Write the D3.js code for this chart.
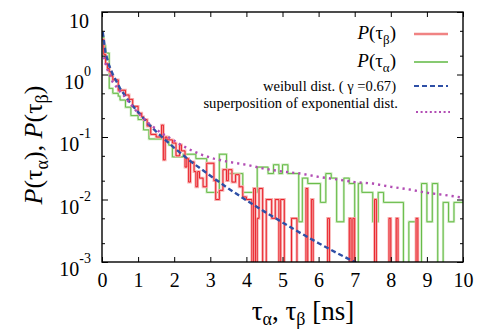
<!DOCTYPE html>
<html lang="en">
<head>
<meta charset="UTF-8" />
<title>P(tau_alpha), P(tau_beta)</title>
<script src="https://d3js.org/d3.v7.min.js"></script>
<style>
  body { margin: 0; background: #fff; }
  svg text { font-family: "Liberation Serif", "Times New Roman", serif; fill: #000; }
</style>
</head>
<body>
<div id="chart"></div>
<script>
// P(tau_beta) histogram: bin start [ns] and value (0 = empty bin)
const betaStart = [0, 0.05, 0.1, 0.15, 0.2, 0.25, 0.3, 0.45, 0.65, 0.75, 0.85, 1.0, 1.1, 1.15, 1.25, 1.35,
  1.5, 1.65, 1.7, 1.75, 1.8, 1.95, 2.05, 2.15, 2.2, 2.3, 2.35, 2.4, 2.45, 2.55, 2.6, 2.65, 2.7, 2.8, 2.9,
  3.1, 3.15, 3.25, 3.35, 3.45, 3.5, 3.6, 3.7, 3.8, 3.9, 4.0, 4.15, 4.2, 4.25, 4.3, 4.35, 4.45, 4.55, 4.7,
  4.8, 4.9, 4.95, 5.05, 5.25, 5.4, 5.65, 5.7, 5.8, 5.85, 6.25, 6.3, 6.85, 6.9, 6.95, 7.0, 7.55, 7.6, 7.95,
  8.0, 8.15, 8.2, 8.7, 8.75];
const betaP = [3.6, 2.1, 1.5, 1.25, 1.1, 0.95, 0.82, 0.56, 0.47, 0.4, 0.31, 0.24, 0.21, 0.19, 0.15, 0.11,
  0.1, 0.155, 0.043, 0.1, 0.09, 0.08, 0.05, 0.075, 0.06, 0.033, 0.045, 0.019, 0.04, 0.028, 0.016, 0.028, 0.022, 0.016, 0.038,
  0.02, 0.01, 0.014, 0.03, 0.02, 0.03, 0.019, 0.025, 0.016, 0.011, 0.01, 0, 0.015, 0, 0.005, 0.015, 0, 0.01, 0.005,
  0.01, 0, 0.01, 0, 0.005, 0, 0.015, 0, 0.01, 0, 0.005, 0, 0.005, 0, 0.005, 0, 0.01, 0, 0.005,
  0, 0.005, 0, 0.005, 0];

// P(tau_alpha) histogram
const alphaStart = [0, 0.05, 0.1, 0.2, 0.3, 0.45, 0.5, 0.65, 0.8, 1.0, 1.15, 1.3, 1.65, 1.85, 1.95, 2.25,
  2.6, 2.9, 3.25, 3.45, 3.9, 4.3, 4.6, 4.75, 4.9, 5.0, 5.15, 5.45, 5.55, 5.7, 6.05, 6.2, 6.35, 6.5, 6.7,
  6.85, 7.0, 7.1, 7.2, 7.5, 7.65, 7.8, 8.35, 8.5, 8.7, 8.85, 9.0, 9.15, 9.3, 9.45, 9.6, 9.75];
const alphaP = [4.0, 2.9, 2.2, 0.6, 0.5, 0.45, 0.39, 0.3, 0.22, 0.19, 0.13, 0.093, 0.1, 0.074, 0.048, 0.053,
  0.045, 0.013, 0.053, 0.026, 0.013, 0.033, 0.026, 0.036, 0.026, 0.036, 0.026, 0.0044, 0.022, 0.018, 0.009, 0.026, 0.022, 0.0044, 0.022,
  0.018, 0, 0.018, 0.013, 0.0044, 0.013, 0.009, 0, 0.0044, 0, 0.018, 0.0044, 0.018, 0, 0.009, 0.0044, 0.009];

// weibull dist. (gamma = 0.67)
const weibullT = [0.02, 0.1, 0.2, 0.3, 0.5, 0.75, 1, 1.25, 1.5, 1.75, 2, 2.5, 3, 3.5, 4, 4.5, 5, 5.5, 6, 6.5, 7, 7.15];
const weibullP = [4.8, 2.2, 1.38, 1.0, 0.6, 0.37, 0.25, 0.17, 0.122, 0.09, 0.067, 0.039, 0.024, 0.015, 0.0097,
  0.0064, 0.0043, 0.0029, 0.002, 0.0014, 0.001, 0.0009];

// superposition of exponential dist.
const expSumT = [0.05, 0.15, 0.3, 0.45, 0.6, 0.8, 1.0, 1.3, 1.6, 1.9, 2.2, 2.5, 2.8, 3.1, 3.5, 4.0, 4.5, 5.0,
  5.5, 6.0, 6.5, 7.0, 7.5, 8.0, 8.5, 9.0, 9.5, 10.0];
const expSumP = [1.9, 1.2, 0.75, 0.58, 0.46, 0.33, 0.24, 0.165, 0.12, 0.095, 0.074, 0.06, 0.051, 0.045, 0.04,
  0.036, 0.031, 0.028, 0.026, 0.023, 0.021, 0.019, 0.018, 0.016, 0.0145, 0.0128, 0.0118, 0.0107];

const xTicks = [0, 1, 2, 3, 4, 5, 6, 7, 8, 9, 10];
const yExponents = [-3, -2, -1, 0, 1];
const yMinor = [0.002, 0.005, 0.02, 0.05, 0.2, 0.5, 2, 5];

const W = 481, H = 333;
const margin = { top: 12, right: 18, bottom: 71, left: 102 };
const serif = "Liberation Serif, Times New Roman, serif";

const x = d3.scaleLinear().domain([0, 10]).range([margin.left, W - margin.right]);
const y = d3.scaleLog().domain([1e-3, 10]).range([H - margin.bottom, margin.top]);

const svg = d3.select("#chart").append("svg")
  .attr("width", W).attr("height", H)
  .attr("font-family", serif);

svg.append("clipPath").attr("id", "plot")
  .append("rect")
  .attr("x", margin.left).attr("y", margin.top)
  .attr("width", W - margin.left - margin.right)
  .attr("height", H - margin.top - margin.bottom);

// empty bins drop below the frame
const py = (v) => (v > 0 ? y(v) : H);

function steps(starts, vals) {
  const pts = starts.map((t, i) => [t, vals[i]]);
  pts.push([10, vals[vals.length - 1]]);
  return pts;
}

const stepLine = d3.line().x((d) => x(d[0])).y((d) => py(d[1])).curve(d3.curveStepAfter);
const curve = d3.line().x((d) => x(d[0])).y((d) => y(d[1]));

const plot = svg.append("g").attr("clip-path", "url(#plot)");

const alphaPts = steps(alphaStart, alphaP);
const betaPts = steps(betaStart, betaP);

plot.append("path").datum(alphaPts).attr("d", stepLine)
  .attr("fill", "none").attr("stroke", "#cdeabf").attr("stroke-width", 2.4);
plot.append("path").datum(alphaPts).attr("d", stepLine)
  .attr("fill", "none").attr("stroke", "#66bb48").attr("stroke-width", 1);

plot.append("path").datum(betaPts).attr("d", stepLine)
  .attr("fill", "none").attr("stroke", "#f7b0b0").attr("stroke-width", 2.8);
plot.append("path").datum(betaPts).attr("d", stepLine)
  .attr("fill", "none").attr("stroke", "#e8121c").attr("stroke-width", 0.9);

plot.append("path").datum(weibullT.map((t, i) => [t, weibullP[i]])).attr("d", curve)
  .attr("fill", "none").attr("stroke", "#2e4fa6").attr("stroke-width", 2.4)
  .attr("stroke-dasharray", "5,3");

plot.append("path").datum(expSumT.map((t, i) => [t, expSumP[i]])).attr("d", curve)
  .attr("fill", "none").attr("stroke", "#b24db4").attr("stroke-width", 2.4)
  .attr("stroke-dasharray", "2.2,4");

// axes, ticks pointing inward on all four sides
const xb = svg.append("g").attr("transform", `translate(0,${H - margin.bottom})`)
  .call(d3.axisBottom(x).tickValues(xTicks).tickSize(-5).tickPadding(11).tickFormat(d3.format("d")));
svg.append("g").attr("transform", `translate(0,${margin.top})`)
  .call(d3.axisTop(x).tickValues(xTicks).tickSize(-5).tickFormat(""));
const yMajor = yExponents.map((e) => Math.pow(10, e));
svg.append("g").attr("transform", `translate(${margin.left},0)`)
  .call(d3.axisLeft(y).tickValues(yMajor).tickSize(-6).tickFormat(""));
svg.append("g").attr("transform", `translate(${margin.left},0)`)
  .call(d3.axisLeft(y).tickValues(yMinor).tickSize(-3).tickFormat(""));
svg.append("g").attr("transform", `translate(${W - margin.right},0)`)
  .call(d3.axisRight(y).tickValues(yMajor).tickSize(-6).tickFormat(""));
svg.append("g").attr("transform", `translate(${W - margin.right},0)`)
  .call(d3.axisRight(y).tickValues(yMinor).tickSize(-3).tickFormat(""));
svg.selectAll(".domain").remove();
svg.selectAll(".tick line").attr("stroke", "#000").attr("stroke-width", 1);
svg.selectAll("g").attr("font-family", serif);
xb.selectAll("text").attr("font-size", 20);

svg.append("rect")
  .attr("x", margin.left).attr("y", margin.top)
  .attr("width", W - margin.left - margin.right)
  .attr("height", H - margin.top - margin.bottom)
  .attr("fill", "none").attr("stroke", "#000").attr("stroke-width", 1.4);

// y tick labels: 10 at the top, 10^e below
yExponents.forEach((e) => {
  const t = svg.append("text")
    .attr("x", e === 1 ? 89 : 91)
    .attr("y", y(Math.pow(10, e)) + (e === 1 ? 16 : 14))
    .attr("text-anchor", "end")
    .attr("font-size", 20);
  t.append("tspan").text("10");
  if (e !== 1) {
    t.append("tspan").attr("dy", -13).attr("font-size", 14).text(String(e));
  }
});

// axis titles
const xt = svg.append("text")
  .attr("x", 303).attr("y", 320)
  .attr("text-anchor", "middle").attr("font-size", 27);
xt.append("tspan").text("τ");
xt.append("tspan").attr("dy", 5).attr("font-size", 18).text("α");
xt.append("tspan").attr("dy", -5).text(", τ");
xt.append("tspan").attr("dy", 5).attr("font-size", 18).text("β");
xt.append("tspan").attr("dy", -5).text(" [ns]");

const yt = svg.append("text")
  .attr("transform", "translate(42,145) rotate(-90)")
  .attr("text-anchor", "middle").attr("font-size", 26);
yt.append("tspan").attr("font-style", "italic").text("P");
yt.append("tspan").text("(τ");
yt.append("tspan").attr("dy", 6).attr("font-size", 18).text("α");
yt.append("tspan").attr("dy", -6).text("), ");
yt.append("tspan").attr("font-style", "italic").text("P");
yt.append("tspan").text("(τ");
yt.append("tspan").attr("dy", 6).attr("font-size", 18).text("β");
yt.append("tspan").attr("dy", -6).text(")");

// legend
const legend = svg.append("g");
const lx0 = 414, lx1 = 448, tx = 396;

function symbolLabel(g, yy, sub) {
  const t = g.append("text").attr("x", tx).attr("y", yy)
    .attr("text-anchor", "end").attr("font-size", 19);
  t.append("tspan").attr("font-style", "italic").text("P");
  t.append("tspan").text("(τ");
  t.append("tspan").attr("dy", 5).attr("font-size", 13).text(sub);
  t.append("tspan").attr("dy", -5).text(")");
}

symbolLabel(legend, 39, "β");
legend.append("line").attr("x1", lx0).attr("x2", lx1).attr("y1", 34).attr("y2", 34)
  .attr("stroke", "#f08383").attr("stroke-width", 2.4);

symbolLabel(legend, 67, "α");
legend.append("line").attr("x1", lx0).attr("x2", lx1).attr("y1", 62).attr("y2", 62)
  .attr("stroke", "#5fb842").attr("stroke-width", 1.4);

legend.append("text").attr("x", tx).attr("y", 91).attr("text-anchor", "end")
  .attr("font-size", 14.6).text("weibull dist. ( γ =0.67)");
legend.append("line").attr("x1", lx0).attr("x2", lx1).attr("y1", 86).attr("y2", 86)
  .attr("stroke", "#2e4fa6").attr("stroke-width", 2.2).attr("stroke-dasharray", "5,3");

legend.append("text").attr("x", tx + 2).attr("y", 108).attr("text-anchor", "end")
  .attr("font-size", 14.6).text("superposition of exponential dist.");
legend.append("line").attr("x1", lx0 + 2).attr("x2", lx1 + 2).attr("y1", 112).attr("y2", 112)
  .attr("stroke", "#b24db4").attr("stroke-width", 2.2).attr("stroke-dasharray", "2,2.6");
</script>
</body>
</html>
